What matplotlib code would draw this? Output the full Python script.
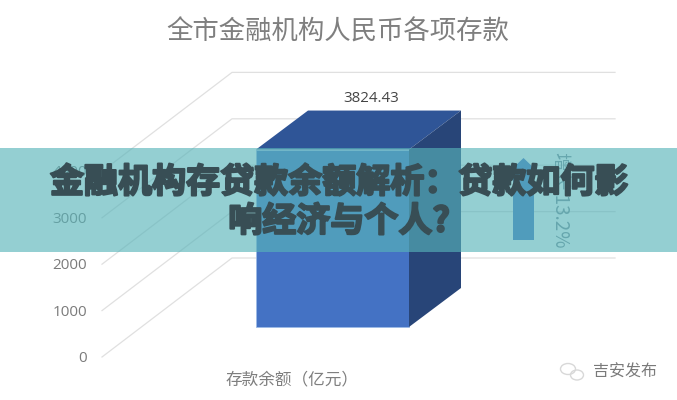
import matplotlib
matplotlib.use('Agg')
import matplotlib.pyplot as plt
import matplotlib.patches as patches
import matplotlib.patheffects as pe

plt.rcParams['font.family']=['Noto Sans CJK SC','DejaVu Sans']

#data
tick_values=[0,1000,2000,3000,4000]
deposit=3824.43
growth_label='增长 13.2%'
chart_title='全市金融机构人民币各项存款'
category='存款余额（亿元）'
overlay_lines=['金融机构存贷款余额解析：贷款如何影','响经济与个人?']
source='吉安发布'

#fake 3d set up, x in pixels and y in value units
W,H=677,400
px_per_unit=0.0464
y0_px=357
def py(p):
    return (y0_px-p)/px_per_unit
floor_dx=130
floor_dy=99/px_per_unit
bar_left,bar_w=256,153
bar_base=py(327)
bar_dx=52
bar_dy=39/px_per_unit

fig=plt.figure(figsize=(W/100,H/100),dpi=100)
ax=fig.add_axes([0,0,1,1])
ax.set_xlim(0,W)
ax.set_ylim(py(H),py(0))
ax.axis('off')

#gridlines: slanted part on the side wall then along the back wall
for v in tick_values:
    ax.plot([102,102+floor_dx,615],[v,v+floor_dy,v+floor_dy],color='#e0e0e0',lw=0.9,zorder=1)
    ax.text(87,v-1.5/px_per_unit,str(v),ha='right',va='center',fontsize=11,color='#7b7b7b',family='Open Sans',zorder=2)

#bar, front face + top + side
ax.bar(bar_left,deposit,width=bar_w,bottom=bar_base,align='edge',color='#4472c4',edgecolor='#9dbbe6',lw=0.6,zorder=3)
top=bar_base+deposit
right=bar_left+bar_w
ax.fill([bar_left,right,right+bar_dx,bar_left+bar_dx],[top,top,top+bar_dy,top+bar_dy],color='#2f5597',lw=0,zorder=3)
ax.fill([right,right+bar_dx,right+bar_dx,right],[bar_base,bar_base+bar_dy,top+bar_dy,top],color='#284578',lw=0,zorder=3)
ax.text(371,py(98.5),'%.2f'%deposit,ha='center',va='center',fontsize=10.8,color='#444444',family='Open Sans',zorder=4)

#growth arrow and label
ax.add_patch(patches.FancyArrow(523.5,py(240),0,py(158)-py(240),width=21,head_width=23,head_length=py(158)-py(169),
                                length_includes_head=True,color='#4472c4',lw=0,zorder=3))
ax.text(560,py(200),growth_label,rotation=-90,ha='center',va='center',fontsize=13.5,color='#7f8f9a',zorder=3)

ax.text(338,py(32),chart_title,ha='center',va='center',fontsize=19,color='#7f7f7f',zorder=4)
ax.text(292,py(380),category,ha='center',va='center',fontsize=12,color='#7f7f7f',zorder=4)

#watermark
ax.add_patch(patches.Ellipse((568,py(369)),15,py(360)-py(371),fill=False,ec='#d8d8d8',lw=1,zorder=4))
ax.add_patch(patches.Ellipse((577,py(375)),13,py(366)-py(376),fill=False,ec='#d8d8d8',lw=1,zorder=4))
ax.text(625,py(372),source,ha='center',va='center',fontsize=11.5,color='#7a7a7a',zorder=4)

#teal band over the chart with the headline
ax.add_patch(patches.Rectangle((0,1-252/H),1,104/H,transform=fig.transFigure,facecolor=(88/255,180/255,185/255),alpha=0.64,lw=0,zorder=10))
for line,yp in zip(overlay_lines,[182,221]):
    ax.text(339,py(yp),line,ha='center',va='center',fontsize=24.5,fontweight='bold',color='#384e55',zorder=11,
            path_effects=[pe.withStroke(linewidth=1.5,foreground='#384e55')])

fig.savefig('out.png',dpi=100)
